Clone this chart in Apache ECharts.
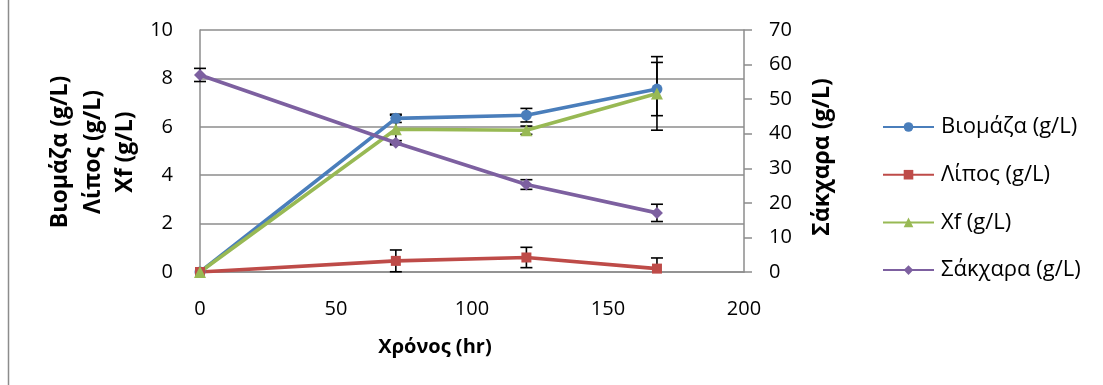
<!DOCTYPE html>
<html>
<head>
<meta charset="utf-8">
<script src="https://cdn.jsdelivr.net/npm/echarts@6/dist/echarts.min.js"></script>
<style>
  html, body { margin: 0; padding: 0; background: #fff; }
  #chart { width: 1103px; height: 385px; }
</style>
</head>
<body>
<div id="chart"></div>
<script>
// Sampling times (hr)
const times = [0, 72, 120, 168];

// Series values and their standard deviations
const biomass = [0, 6.35, 6.48, 7.56];
const biomassErr = [0, 0.17, 0.28, 1.1];
const lipid = [0, 0.46, 0.6, 0.14];
const lipidErr = [0, 0.45, 0.42, 0.44];
const xf = [0, 5.9, 5.86, 7.38];
const xfErr = [0, 0.58, 0.17, 1.52];
const sugar = [57.0, 37.4, 25.3, 17.1];
const sugarErr = [1.9, 0.6, 1.4, 2.5];

const names = ['Βιομάζα (g/L)', 'Λίπος (g/L)', 'Xf (g/L)', 'Σάκχαρα (g/L)'];
const colors = ['#4a7ebb', '#be4b48', '#98b954', '#7d60a0'];
const FONT = '"Open Sans"';

function pairs(vals) { return times.map((t, i) => [t, vals[i]]); }
function errRows(vals, errs) { return times.map((t, i) => [t, vals[i], errs[i]]); }

// Vertical error bars with caps; the lower end stops at the axis floor (0)
function errorBars(vals, errs, axisIdx) {
  return {
    type: 'custom',
    yAxisIndex: axisIdx,
    z: 1,
    silent: true,
    data: errRows(vals, errs),
    renderItem: function (params, api) {
      const x = api.value(0), y = api.value(1), e = api.value(2);
      if (!e) return null;
      const lowVal = y - e;
      const clipped = lowVal < 0;
      const hi = api.coord([x, y + e]);
      const lo = api.coord([x, clipped ? 0 : lowVal]);
      const w = 6;
      const s = { stroke: '#000', lineWidth: 1.6 };
      const parts = [
        { type: 'line', shape: { x1: hi[0], y1: hi[1], x2: lo[0], y2: lo[1] }, style: s },
        { type: 'line', shape: { x1: hi[0] - w, y1: hi[1], x2: hi[0] + w, y2: hi[1] }, style: s }
      ];
      if (!clipped) {
        parts.push({ type: 'line', shape: { x1: lo[0] - w, y1: lo[1], x2: lo[0] + w, y2: lo[1] }, style: s });
      }
      return { type: 'group', children: parts };
    }
  };
}

function lineSeries(idx, vals, symbol, size, axisIdx) {
  return {
    name: names[idx],
    type: 'line',
    yAxisIndex: axisIdx,
    z: 3,
    data: pairs(vals),
    symbol: symbol,
    symbolSize: size,
    showAllSymbol: true,
    lineStyle: { color: colors[idx], width: 3.6 },
    itemStyle: { color: colors[idx] }
  };
}

const chart = echarts.init(document.getElementById('chart'), null, { renderer: 'canvas' });
const gridColor = '#8c8c8c';

function axisTitle(text, x, y, rot, size) {
  return {
    type: 'text', x: x, y: y, rotation: rot,
    style: {
      text: text, font: 'bold ' + size + 'px ' + FONT, fill: '#000',
      align: 'center', verticalAlign: 'middle'
    }
  };
}

const UP = Math.PI / 2;

chart.setOption({
  animation: false,
  backgroundColor: '#fff',
  textStyle: { fontFamily: FONT },
  grid: { left: 200, right: 359, top: 30, bottom: 113, containLabel: false },
  xAxis: {
    type: 'value', min: 0, max: 200, interval: 50,
    axisLine: { show: true, lineStyle: { color: gridColor, width: 1.5 } },
    axisTick: { show: false },
    splitLine: { show: false },
    axisLabel: { color: '#000', fontSize: 20, fontFamily: FONT, margin: 27 }
  },
  yAxis: [
    {
      type: 'value', min: 0, max: 10, interval: 2,
      axisLine: { show: true, lineStyle: { color: gridColor, width: 1.5 } },
      axisTick: { show: false },
      splitLine: { show: true, lineStyle: { color: gridColor, width: 1.5 } },
      axisLabel: { color: '#000', fontSize: 20, fontFamily: FONT, margin: 27 }
    },
    {
      type: 'value', min: 0, max: 70, interval: 10, position: 'right',
      axisLine: { show: true, lineStyle: { color: gridColor, width: 1.5 } },
      axisTick: { show: true, length: 8, lineStyle: { color: gridColor, width: 1.5 } },
      splitLine: { show: false },
      axisLabel: { color: '#000', fontSize: 20, fontFamily: FONT, margin: 25 }
    }
  ],
  legend: {
    orient: 'vertical',
    left: 882,
    top: 115,
    padding: 0,
    itemWidth: 51,
    itemHeight: 12,
    itemGap: 23.7,
    textStyle: { color: '#000', fontSize: 22, fontFamily: FONT, lineHeight: 24, padding: [0, 0, 0, 2] },
    data: names
  },
  graphic: [
    { type: 'line', shape: { x1: 8.5, y1: 0, x2: 8.5, y2: 385 }, style: { stroke: '#8c8c8c', lineWidth: 1.5 } },
    axisTitle('Βιομάζα (g/L)', 60, 152, UP, 23),
    axisTitle('Λίπος (g/L)', 93, 152, UP, 23),
    axisTitle('Xf (g/L)', 125, 152, UP, 23),
    axisTitle('Σάκχαρα (g/L)', 822, 157, UP, 23),
    axisTitle('Χρόνος (hr)', 435, 347, 0, 20)
  ],
  series: [
    errorBars(biomass, biomassErr, 0),
    errorBars(lipid, lipidErr, 0),
    errorBars(xf, xfErr, 0),
    errorBars(sugar, sugarErr, 1),
    lineSeries(0, biomass, 'circle', 11, 0),
    lineSeries(1, lipid, 'rect', 10, 0),
    lineSeries(2, xf, 'triangle', 12, 0),
    lineSeries(3, sugar, 'diamond', 12, 1)
  ]
});
</script>
</body>
</html>
